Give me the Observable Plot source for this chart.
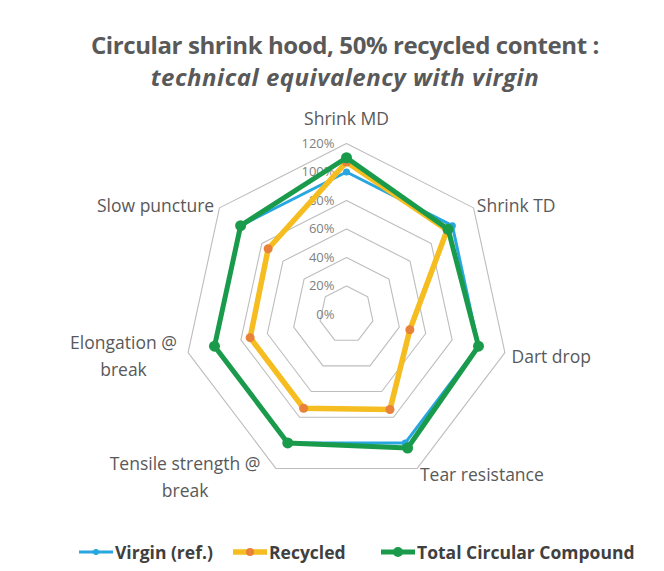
<!DOCTYPE html>
<html><head><meta charset="utf-8">
<script src="https://cdn.jsdelivr.net/npm/d3@7"></script>
<script src="https://cdn.jsdelivr.net/npm/@observablehq/plot@0.6"></script>
<style>
body{margin:0;background:#fff;font-family:"Open Sans",sans-serif;}
#wrap{width:664px;height:571px;position:relative;overflow:hidden;background:#fff}
#title{position:absolute;top:29px;left:0;width:690px;text-align:center;font-size:24px;line-height:32px;font-weight:700;color:#595959;letter-spacing:-0.4px}
#title i{font-style:italic;letter-spacing:0.5px}
#chart{position:absolute;top:100px;left:0}
#legend{position:absolute;top:538px;left:0;width:664px;height:28px;font-size:17.5px;line-height:28px;font-weight:700;color:#404040}
#legend .item{position:absolute;top:0;white-space:nowrap}
#legend svg{vertical-align:middle;margin-right:1px;position:relative;top:-2px}
</style></head><body>
<div id="wrap">
<div id="title">Circular shrink hood, 50% recycled content :<br><i>technical equivalency with virgin</i></div>
<div id="chart"></div>
<div id="legend"></div>
</div>
<script>
// ---- data ----
const axes = ["Shrink MD","Shrink TD","Dart drop","Tear resistance","Tensile strength @\nbreak","Elongation @\nbreak","Slow puncture"];
const virgin   = [100,100,100,100,100,100,100];
const recycled = [107, 95, 48, 74, 73, 73, 74];
const tcc      = [110, 96,100,104,100,100,100];
const ringValues = [20,40,60,80,100,120];
const tickValues = [0,20,40,60,80,100,120];
const tickLabels = ["0%","20%","40%","60%","80%","100%","120%"];
const seriesNames = ["Virgin (ref.)","Recycled","Total Circular Compound"];

// ---- styles ----
const colors = {line:["#27a6df","#f5bd1f","#1a9b4b"], dot:["#27a6df","#e8813a","#1a9b4b"]};
const widths = [3,5.5,5];
const radii  = [3.5,4.5,5.5];

const n = axes.length;
const ang = i => i*2*Math.PI/n;
const P = (r,i) => ({x: r*Math.sin(ang(i)), y: r*Math.cos(ang(i))});

const ringPts = ringValues.flatMap(r => d3.range(n+1).map(i => ({...P(r,i%n), ring:r})));
const seriesData = [virgin, recycled, tcc].map((vals,s) => vals.map((v,i) => ({...P(v,i), s, v, axis:axes[i]})));
const ticks = tickValues.map((v,k) => ({x:0, y:v, label:tickLabels[k]}));

// label placement per axis (anchor side)
const labelR = 125;
const labelOpts = [
  {textAnchor:"middle", lineAnchor:"bottom", r:133, dx:0, dy:0},
  {textAnchor:"start", lineAnchor:"middle", r:labelR, dx:-2, dy:0},
  {textAnchor:"start", lineAnchor:"middle", r:labelR, dx:0, dy:0},
  {textAnchor:"start", lineAnchor:"middle", r:labelR, dx:0, dy:-2},
  {textAnchor:"middle", lineAnchor:"middle", r:labelR, dx:-88, dy:0},
  {textAnchor:"middle", lineAnchor:"middle", r:labelR, dx:-58, dy:0},
  {textAnchor:"end", lineAnchor:"middle", r:labelR, dx:0, dy:0}
];
const labelMarks = axes.map((a,i) => {
  const o = labelOpts[i];
  return Plot.text([{...P(o.r,i), a}], {x:"x", y:"y", text:"a", textAnchor:o.textAnchor, lineAnchor:o.lineAnchor,
    dx:o.dx, dy:o.dy, fontSize:17.5, fill:"#595959", lineHeight:1.5, letterSpacing:"-0.2px"});
});

const cx = 346, cy = 214, kx = 1.354, ky = 1.425;
const plot = Plot.plot({
  width:664, height:430, margin:0,
  x:{domain:[-160,160], range:[cx-160*kx, cx+160*kx], axis:null},
  y:{domain:[-160,160], range:[cy+160*ky, cy-160*ky], axis:null},
  style:{fontFamily:"'Open Sans',sans-serif", background:"transparent"},
  marks:[
    Plot.line(ringPts, {x:"x", y:"y", z:"ring", stroke:"#bdbdbd", strokeWidth:1.1}),
    Plot.text(ticks, {x:"x", y:"y", text:"label", textAnchor:"end", dx:-12, fontSize:13, fill:"#7f7f7f"}),
    ...seriesData.flatMap((d,s) => [
      Plot.line([...d, d[0]], {x:"x", y:"y", stroke:colors.line[s], strokeWidth:widths[s], strokeLinejoin:"round"}),
      Plot.dot(d, {x:"x", y:"y", r:radii[s], fill:colors.dot[s], stroke:"none"})
    ]),
    ...labelMarks
  ]
});
document.getElementById("chart").appendChild(plot);

// legend
const legendLeft = [78, 232, 380];
const leg = document.getElementById("legend");
seriesNames.forEach((name,s) => {
  const it = document.createElement("span");
  it.className = "item";
  it.style.left = legendLeft[s] + "px";
  it.innerHTML = `<svg width="36" height="12"><line x1="1" y1="6" x2="35" y2="6" stroke="${colors.line[s]}" stroke-width="${widths[s]}"/><circle cx="18" cy="6" r="${radii[s]-0.5}" fill="${colors.dot[s]}"/></svg>${name}`;
  leg.appendChild(it);
});
</script>
</body></html>
